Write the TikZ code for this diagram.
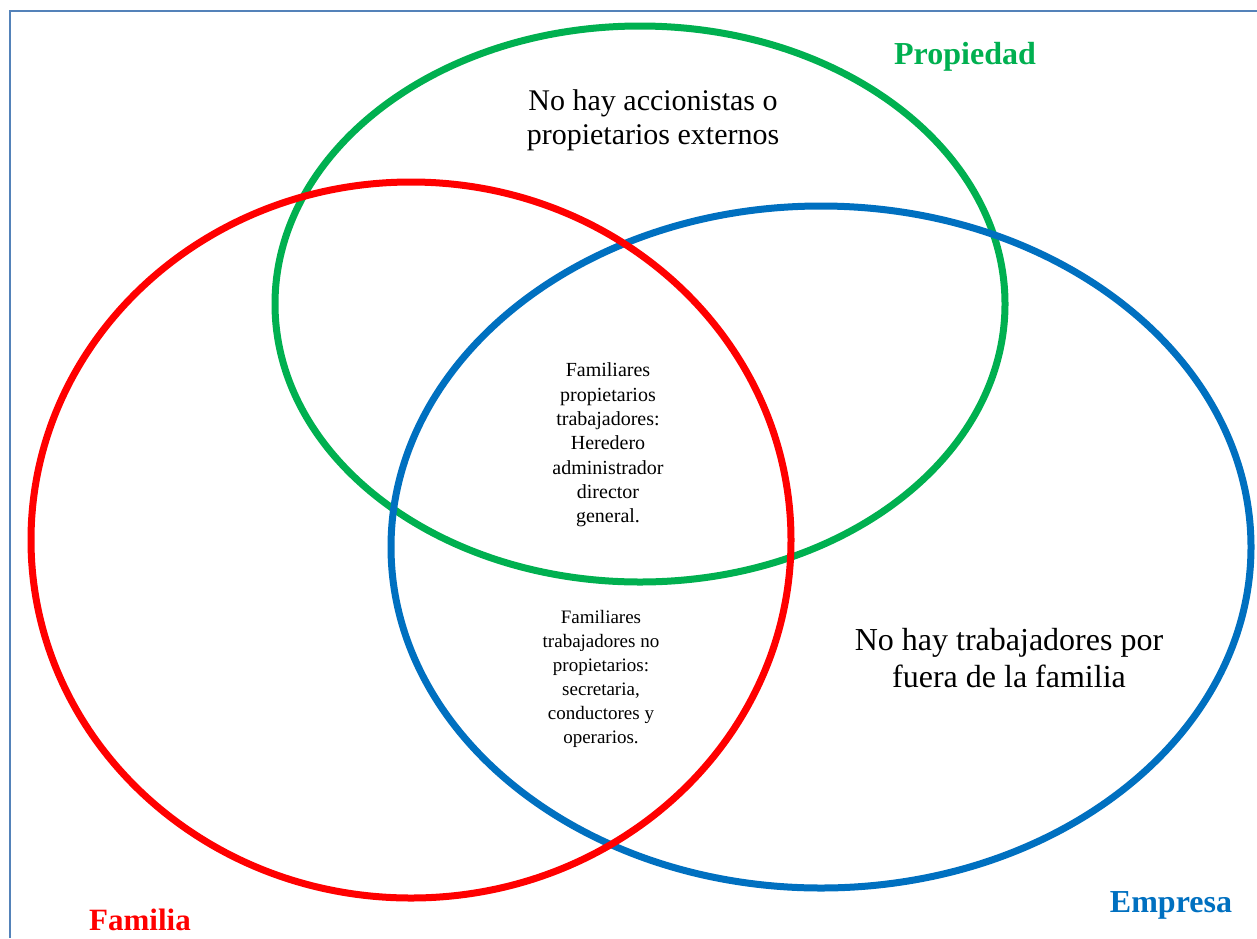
\documentclass[tikz,border=0pt]{standalone}
\usepackage{fontspec}
\setmainfont{Liberation Serif}
\definecolor{propgreen}{RGB}{0,176,80}
\definecolor{famred}{RGB}{255,0,0}
\definecolor{empblue}{RGB}{0,112,192}
\definecolor{framecol}{RGB}{84,130,185}
\begin{document}
\begin{tikzpicture}[x=1pt,y=-1pt,
  ring/.style={line width=7pt},
  title/.style={font=\fontsize{#1}{#1}\selectfont\bfseries, inner sep=0pt},
  body/.style 2 args={font=\fontsize{#1}{#2}\selectfont, align=center, inner sep=0pt}]
  \useasboundingbox[fill=white] (0,0) rectangle (1257,938);
  % frame lines along top and left
  \coordinate (ftl) at (10,11);
  \coordinate (ftr) at (1257,11);
  \coordinate (fbl) at (10,938);
  \draw[framecol, line width=2pt] (ftr) -- (ftl) -- (fbl);
  % the three circles: ownership, company, family
  \draw[ring, propgreen] (640,304) ellipse [x radius=365, y radius=278];
  \draw[ring, empblue] (821,547) ellipse [x radius=430, y radius=341];
  \draw[ring, famred] (411,540) ellipse [x radius=380, y radius=358];
  % titles
  \node[title=32, text=propgreen] (prop) at (965,57) {Propiedad};
  \node[title=31, text=famred] (fam) at (140,920) {Familia};
  \node[title=32, text=empblue] (emp) at (1171,905) {Empresa};
  % region texts
  \node[body={30}{34}] (own) at (653,120) {No hay accionistas o\\propietarios externos};
  \node[body={32}{37}] (work) at (1009,658) {No hay trabajadores por\\fuera de la familia};
  \node[body={20}{24.3}] (core) at (608,445) {Familiares\\propietarios\\trabajadores:\\Heredero\\administrador\\director\\general.};
  \node[body={19}{24}] (staff) at (601,679) {Familiares\\trabajadores no\\propietarios:\\secretaria,\\conductores y\\operarios.};
\end{tikzpicture}
\end{document}
